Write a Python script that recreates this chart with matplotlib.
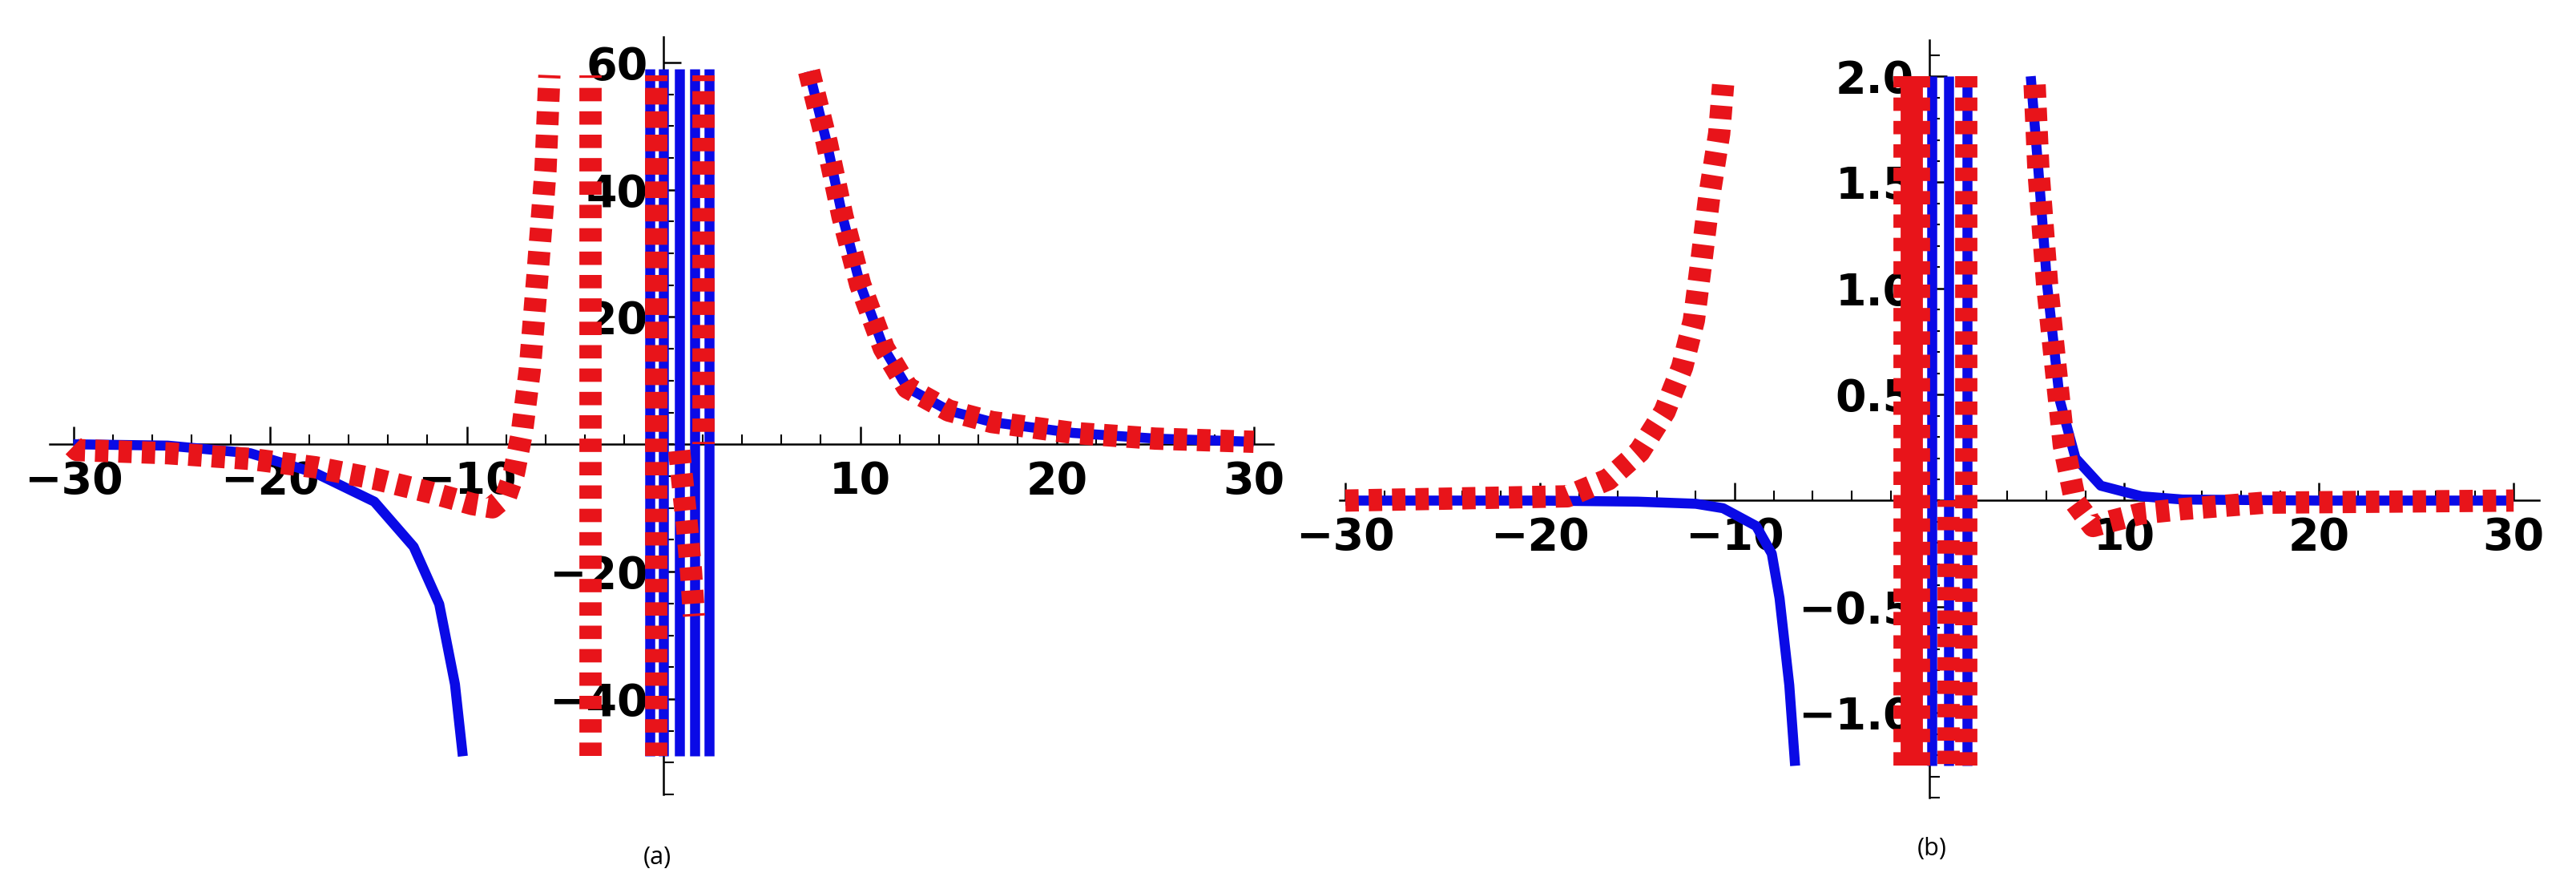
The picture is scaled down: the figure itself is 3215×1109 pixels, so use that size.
import matplotlib
matplotlib.use("Agg")
import matplotlib.pyplot as plt
from matplotlib.ticker import MultipleLocator, FixedLocator

# ---------------- Panel (a) data ----------------
a_blue_left_x = [-30, -29.8, -25.2, -21.0, -17.7, -14.7, -12.7, -11.4, -10.6, -10.2]
a_blue_left_y = [0, 0, -0.2, -1.4, -4.5, -9.0, -16.1, -25.1, -37.7, -49]
a_red_left_x = [-30, -29.8, -25.2, -21.0, -17.7, -14.7, -11.8, -9.7, -8.7, -8.0, -7.6, -7.2, -6.8, -6.4, -6.0, -5.8]
a_red_left_y = [-0.3, -0.9, -1.4, -2.3, -3.6, -5.4, -7.6, -9.4, -9.9, -8.1, -4.5, 1.8, 11.6, 26.8, 42.9, 58]
a_right_x = [7.4, 8.3, 9.1, 10.0, 11.2, 12.4, 14.5, 16.7, 20.8, 25.0, 30.0]
a_right_y = [58.6, 47.4, 35.8, 25.1, 15.1, 8.9, 5.3, 3.5, 1.8, 0.9, 0.4]
a_blue_vlines = [-0.7, 0.0, 0.8, 1.6, 2.3]
a_blue_vrange = (-49, 59)
a_red_full_vlines = [-3.7, -0.35]
a_red_upper_vlines = [-0.35, 2.05]   # from 0 up to top
a_red_slant_x = [0.8, 1.0, 1.2, 1.4, 1.55]
a_red_slant_y = [-1, -7, -13, -20, -27]
a_xticks = [-30, -20, -10, 10, 20, 30]
a_yticks = [-40, -20, 20, 40, 60]

# ---------------- Panel (b) data ----------------
b_blue_left_x = [-30, -20, -15, -12, -10.6, -8.9, -8.1, -7.7, -7.2, -6.9]
b_blue_left_y = [0, 0, -0.005, -0.015, -0.036, -0.12, -0.25, -0.46, -0.87, -1.25]
b_red_left_x = [-30, -18.6, -16.5, -14.9, -13.6, -12.7, -12.1, -11.7, -11.3, -10.8, -10.6]
b_red_left_y = [0, 0.02, 0.1, 0.23, 0.42, 0.63, 0.85, 1.14, 1.44, 1.73, 1.96]
b_blue_right_x = [5.2, 5.6, 6.05, 6.7, 7.5, 8.8, 10.9, 13.0, 20, 30]
b_blue_right_y = [2.0, 1.55, 1.01, 0.47, 0.2, 0.07, 0.02, 0.005, 0, 0]
b_red_right_x = [5.4, 5.6, 6.05, 6.5, 6.9, 7.5, 8.4, 9.2, 10.9, 13.0, 17.2, 30]
b_red_right_y = [1.96, 1.55, 1.01, 0.61, 0.26, -0.01, -0.12, -0.10, -0.06, -0.04, -0.01, 0]
b_blue_vlines = [0.1, 1.0, 1.95]
b_blue_vrange = (-1.25, 2.0)
b_red_full_vlines = [-1.3, -0.55, 1.9]
b_red_lower_vlines = [1.0]   # from 0 down to bottom
b_xticks = [-30, -20, -10, 10, 20, 30]
b_yticks = [-1.0, -0.5, 0.5, 1.0, 1.5, 2.0]

BLUE = "#0a0ae6"
RED = "#e8141a"
BLUE_LW = 9
RED_LW = 20
DASH = (0.6, 0.45)

fig = plt.figure(figsize=(32.15, 11.09), dpi=100)


def red(ax, x, y, offset=0.0):
    ln, = ax.plot(x, y, color=RED, lw=RED_LW, solid_capstyle="butt",
                  dash_capstyle="butt", zorder=5)
    ln.set_dashes((offset * RED_LW, (DASH[0], DASH[1])) if False else DASH)
    ln.set_linestyle((offset, DASH))
    return ln


def blue(ax, x, y):
    ax.plot(x, y, color=BLUE, lw=BLUE_LW, solid_capstyle="butt", zorder=3)


def style(ax, xticks, yticks, xminor, yminor, fmt):
    for s in ("top", "right"):
        ax.spines[s].set_visible(False)
    ax.spines["left"].set_position(("data", 0))
    ax.spines["bottom"].set_position(("data", 0))
    ax.spines["left"].set_linewidth(1.8)
    ax.spines["bottom"].set_linewidth(1.8)
    ax.xaxis.set_major_locator(FixedLocator(xticks))
    ax.yaxis.set_major_locator(FixedLocator(yticks))
    ax.xaxis.set_minor_locator(MultipleLocator(xminor))
    ax.yaxis.set_minor_locator(MultipleLocator(yminor))
    ax.set_xticklabels([f"{v:g}".replace("-", "\u2212") for v in xticks])
    ax.set_yticklabels([fmt(v).replace("-", "\u2212") for v in yticks])
    ax.tick_params(which="major", direction="in", length=16, width=1.8,
                   labelsize=40, pad=14)
    ax.tick_params(which="minor", direction="in", length=9, width=1.5)
    for lab in ax.get_xticklabels() + ax.get_yticklabels():
        lab.set_fontweight("bold")
        lab.set_family("DejaVu Sans")
    ax.patch.set_alpha(0)


# ---------- (a) ----------
axa = fig.add_axes([0.0193, 0.1064, 0.475, 0.852])
axa.set_xlim(-31.2, 31.0)
axa.set_ylim(-55, 64)
blue(axa, a_blue_left_x, a_blue_left_y)
blue(axa, a_right_x, a_right_y)
for xv in a_blue_vlines:
    blue(axa, [xv, xv], list(a_blue_vrange))
red(axa, a_red_left_x, a_red_left_y)
red(axa, a_right_x, a_right_y)
for xv in a_red_full_vlines:
    red(axa, [xv, xv], [-49, 58])
for xv in a_red_upper_vlines:
    red(axa, [xv, xv], [0, 58], offset=0.5)
red(axa, a_red_slant_x, a_red_slant_y)
style(axa, a_xticks, a_yticks, 2, 5, lambda v: f"{v:g}")
fig.text(0.255, 0.035, "(a)", fontsize=22, ha="center", va="center",
         family="Open Sans")

# ---------- (b) ----------
axb = fig.add_axes([0.520, 0.1028, 0.4656, 0.852])
axb.set_xlim(-30.3, 31.3)
axb.set_ylim(-1.40, 2.17)
blue(axb, b_blue_left_x, b_blue_left_y)
blue(axb, b_blue_right_x, b_blue_right_y)
for xv in b_blue_vlines:
    blue(axb, [xv, xv], list(b_blue_vrange))
red(axb, b_red_left_x, b_red_left_y)
red(axb, b_red_right_x, b_red_right_y)
for xv in b_red_full_vlines:
    red(axb, [xv, xv], [-1.25, 2.0])
red(axb, [-0.9, -0.9], [-1.25, 2.0], offset=0.5)
for xv in b_red_lower_vlines:
    red(axb, [xv, xv], [0, -1.25], offset=0.3)
style(axb, b_xticks, b_yticks, 2, 0.1, lambda v: f"{v:.1f}")
fig.text(0.750, 0.045, "(b)", fontsize=22, ha="center", va="center",
         family="Open Sans")

fig.savefig("out.png", dpi=100)
